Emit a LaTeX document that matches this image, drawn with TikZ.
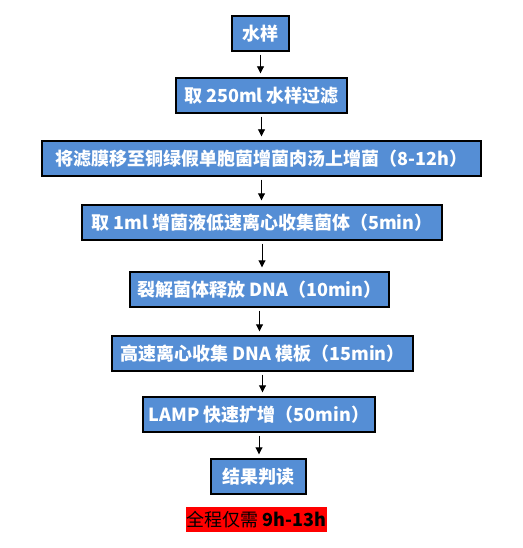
\documentclass[tikz,border=0pt]{standalone}
\usepackage{fontspec}
\setmainfont{Noto Sans CJK SC}
\usetikzlibrary{arrows.meta}
\definecolor{boxblue}{HTML}{558ED5}
\tikzset{
  stepbox/.style={draw=black, line width=1.4pt, fill=boxblue, text=white,
    font=\fontsize{18}{20}\selectfont\bfseries, minimum height=35pt, inner sep=0pt, anchor=center},
  flow/.style={draw=black, line width=0.9pt, -{Triangle[length=7pt,width=7pt]}, shorten <=3pt, shorten >=4pt}
}
\begin{document}
\begin{tikzpicture}[x=1pt,y=-1pt]
\useasboundingbox (0,0) rectangle (522,548);
\fill[white] (0,0) rectangle (522,548);
\node[stepbox, minimum width=57pt]  (b1) at (260.5,33.5) {水样};
\node[stepbox, minimum width=171pt] (b2) at (261.5,95.5) {取 250ml 水样过滤};
\node[stepbox, minimum width=439pt] (b3) at (261.5,158.5) {将滤膜移至铜绿假单胞菌增菌肉汤上增菌（8-12h）};
\node[stepbox, minimum width=360pt] (b4) at (262,222.5) {取 1ml 增菌液低速离心收集菌体（5min）};
\node[stepbox, minimum width=259pt] (b5) at (259.5,289.5) {裂解菌体释放 DNA（10min）};
\node[stepbox, minimum width=301pt] (b6) at (262.5,353.5) {高速离心收集 DNA 模板（15min）};
\node[stepbox, minimum width=232pt] (b7) at (259,414.5) {LAMP 快速扩增（50min）};
\node[stepbox, minimum width=95pt]  (b8) at (258.5,476.5) {结果判读};
\node[fill=red, text=black, font=\fontsize{18}{20}\selectfont, minimum width=141pt, minimum height=25pt, inner sep=0pt] (total) at (256.5,519.5) {全程仅需 \textbf{9h-13h}};
\foreach \a/\b in {b1/b2,b2/b3,b3/b4,b4/b5,b5/b6,b6/b7,b7/b8}
  \draw[flow] (\a.south) -- (\a.south |- \b.north);
\end{tikzpicture}
\end{document}
